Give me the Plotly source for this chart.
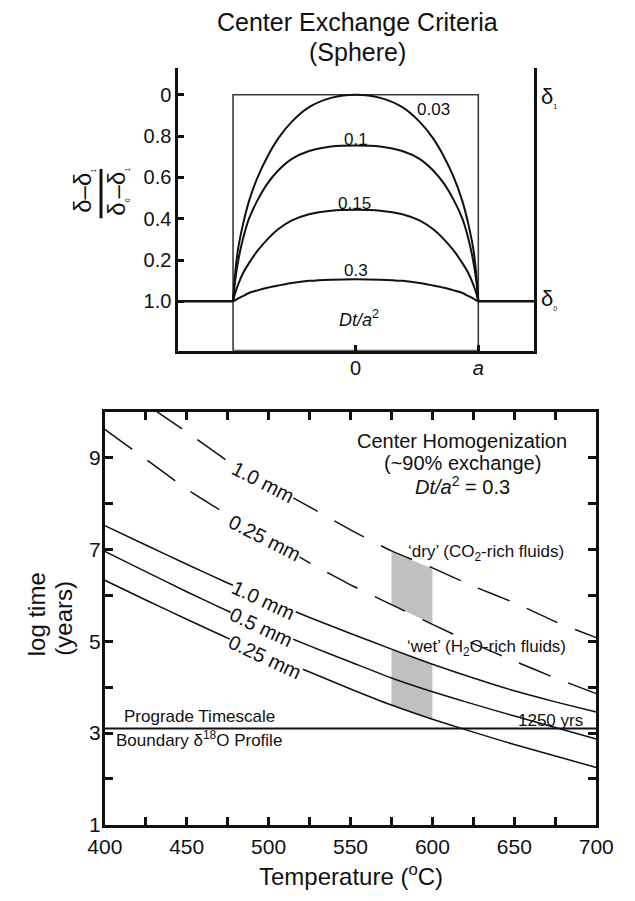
import plotly.graph_objects as go

W, H = 635, 901
FONT = "Liberation Sans, Arial, Helvetica, sans-serif"
INK = "#111111"

# ---------------- top panel data ----------------
profile_x = [-1.0, -0.985, -0.96, -0.92, -0.87, -0.8, -0.72, -0.63, -0.52, -0.38, -0.2, 0.0,
             0.2, 0.38, 0.52, 0.63, 0.72, 0.8, 0.87, 0.92, 0.96, 0.985, 1.0]
prof_003 = [0.0, 0.12, 0.25, 0.37, 0.485, 0.60, 0.70, 0.79, 0.87, 0.94, 0.985, 1.0,
            0.985, 0.94, 0.87, 0.79, 0.70, 0.60, 0.485, 0.37, 0.25, 0.12, 0.0]
prof_01 = [0.0, 0.09, 0.19, 0.30, 0.40, 0.49, 0.57, 0.635, 0.69, 0.728, 0.75, 0.755,
           0.75, 0.728, 0.69, 0.635, 0.57, 0.49, 0.40, 0.30, 0.19, 0.09, 0.0]
prof_015 = [0.0, 0.035, 0.08, 0.135, 0.185, 0.245, 0.30, 0.35, 0.392, 0.422, 0.439, 0.443,
            0.439, 0.422, 0.392, 0.35, 0.30, 0.245, 0.185, 0.135, 0.08, 0.035, 0.0]
prof_03 = [0.0, 0.004, 0.013, 0.025, 0.040, 0.053, 0.066, 0.077, 0.089, 0.099, 0.105, 0.107,
           0.105, 0.099, 0.089, 0.077, 0.066, 0.053, 0.040, 0.025, 0.013, 0.004, 0.0]
profile_labels = ["0.03", "0.1", "0.15", "0.3"]
outer_left_x = [-1.446, -1.0]
outer_right_x = [1.0, 1.454]
outer_y = [0.0, 0.0]
box_x = [-1.0, 1.0]
box_top = 1.0
top_ytickvals = [0.0, 0.2, 0.4, 0.6, 0.8, 1.0]
top_yticktext = ["1.0", "0.2", "0.4", "0.6", "0.8", "0"]
top_xtickvals = [0, 1]
top_xticktext = ["0", "<i>a</i>"]

# ---------------- bottom panel data ----------------
temps = [400, 425, 450, 475, 500, 525, 550, 575, 600, 625, 650, 675, 700]
wet_10mm = [7.52, 7.10, 6.68, 6.27, 5.89, 5.52, 5.17, 4.83, 4.50, 4.20, 3.92, 3.68, 3.46]
wet_05mm = [6.96, 6.52, 6.08, 5.66, 5.27, 4.90, 4.55, 4.20, 3.90, 3.63, 3.37, 3.12, 2.87]
wet_025mm = [6.33, 5.90, 5.48, 5.07, 4.70, 4.33, 3.96, 3.61, 3.30, 3.02, 2.75, 2.50, 2.25]
dry_025mm = [9.62, 8.97, 8.32, 7.76, 7.24, 6.71, 6.23, 5.80, 5.37, 4.95, 4.57, 4.20, 3.86]
temps_dry10 = [430, 450, 475, 500, 525, 550, 575, 600, 625, 650, 675, 700]
dry_10mm = [10.05, 9.56, 8.93, 8.42, 7.93, 7.43, 6.97, 6.60, 6.20, 5.84, 5.43, 5.08]
box_T = [575, 600]
dry_box_top = [6.95, 6.58]
dry_box_bot = [5.79, 5.38]
wet_box_top = [4.82, 4.50]
wet_box_bot = [3.60, 3.30]
prograde_T = [400, 700]
prograde_logt = [3.097, 3.097]
xticks_T = [400, 425, 450, 475, 500, 525, 550, 575, 600, 625, 650, 675, 700]
xticks_T_text = ["400", "", "450", "", "500", "", "550", "", "600", "", "650", "", "700"]
yticks_logt = [1, 2, 3, 4, 5, 6, 7, 8, 9]
yticks_logt_text = ["1", "", "3", "", "5", "", "7", "", "9"]


def PX(x):
    return x / W


def PY(y):
    return 1 - y / H


fig = go.Figure()

# ---- top panel traces ----
for ys in [prof_003, prof_01, prof_015, prof_03]:
    fig.add_trace(go.Scatter(x=profile_x, y=ys, mode="lines", xaxis="x", yaxis="y",
                             line=dict(color=INK, width=2, shape="spline", smoothing=0.8),
                             hoverinfo="skip"))
for xs in [outer_left_x, outer_right_x]:
    fig.add_trace(go.Scatter(x=xs, y=outer_y, mode="lines", xaxis="x", yaxis="y",
                             line=dict(color=INK, width=2.6), hoverinfo="skip"))

# ---- bottom panel traces ----
fig.add_trace(go.Scatter(x=[box_T[0], box_T[1], box_T[1], box_T[0]],
                         y=[dry_box_top[0], dry_box_top[1], dry_box_bot[1], dry_box_bot[0]],
                         fill="toself", fillcolor="#c0c0c0", mode="none",
                         xaxis="x2", yaxis="y2", hoverinfo="skip"))
fig.add_trace(go.Scatter(x=[box_T[0], box_T[1], box_T[1], box_T[0]],
                         y=[wet_box_top[0], wet_box_top[1], wet_box_bot[1], wet_box_bot[0]],
                         fill="toself", fillcolor="#c0c0c0", mode="none",
                         xaxis="x2", yaxis="y2", hoverinfo="skip"))
for ys in [wet_10mm, wet_05mm, wet_025mm]:
    fig.add_trace(go.Scatter(x=temps, y=ys, mode="lines", xaxis="x2", yaxis="y2",
                             line=dict(color=INK, width=1.5, shape="spline", smoothing=0.5),
                             hoverinfo="skip"))
fig.add_trace(go.Scatter(x=temps, y=dry_025mm, mode="lines", xaxis="x2", yaxis="y2",
                         line=dict(color=INK, width=1.5, dash="34px,19px", shape="spline",
                                   smoothing=0.5), hoverinfo="skip"))
fig.add_trace(go.Scatter(x=temps_dry10, y=dry_10mm, mode="lines", xaxis="x2", yaxis="y2",
                         line=dict(color=INK, width=1.5, dash="34px,19px", shape="spline",
                                   smoothing=0.5), hoverinfo="skip"))
fig.add_trace(go.Scatter(x=prograde_T, y=prograde_logt, mode="lines", xaxis="x2", yaxis="y2",
                         line=dict(color=INK, width=2), hoverinfo="skip"))

# box in the top panel
fig.add_shape(type="rect", xref="x", yref="y", x0=box_x[0], x1=box_x[1], y0=-0.239, y1=box_top,
              line=dict(color="#3a3a3a", width=1.6), layer="below")

# fraction bar of the top y-axis title
fig.add_shape(type="line", xref="paper", yref="paper", x0=PX(88), x1=PX(88),
              y0=PY(171), y1=PY(221), line=dict(color=INK, width=3))

ann = []


def text(x, y, s, size, angle=0, xref="paper", yref="paper", bg=None, xanchor="center"):
    d = dict(x=x, y=y, xref=xref, yref=yref, text=s, showarrow=False, textangle=angle,
             font=dict(family=FONT, size=size, color=INK), xanchor=xanchor, yanchor="middle")
    if bg:
        d["bgcolor"] = bg
        d["borderpad"] = 0
    ann.append(d)


SUB1 = "<sub><span style='font-size:7px'>1</span></sub>"
SUB0 = "<sub><span style='font-size:7px'>0</span></sub>"

# titles top
text(PX(360), PY(22), "Center Exchange Criteria", 25)
text(PX(360), PY(53), "(Sphere)", 25)
# curve labels top
text(PX(441), PY(111), profile_labels[0], 17)
text(PX(358), PY(141), profile_labels[1], 17)
text(PX(357), PY(206), profile_labels[2], 17)
text(PX(358), PY(274), profile_labels[3], 17)
text(PX(362), PY(322), "<i>Dt/a</i><sup>2</sup>", 18)
text(PX(563), PY(98), "δ" + SUB1, 22)
text(PX(563), PY(303), "δ" + SUB0, 22)
# fraction y title
text(PX(68), PY(193), "δ–δ" + SUB1, 24, angle=-90)
text(PX(105), PY(194), "δ" + SUB0 + "–δ" + SUB1, 24, angle=-90)

# bottom panel texts
text(PX(471), PY(446), "Center Homogenization", 20)
text(PX(471), PY(469), "(~90% exchange)", 20)
text(PX(471), PY(492), "<i>Dt/a</i><sup>2</sup> = 0.3", 20)
text(PX(496), PY(560), "‘dry’ (CO<sub>2</sub>-rich fluids)", 17)
text(PX(497), PY(656), "‘wet’ (H<sub>2</sub>O-rich fluids)", 17)
text(PX(192), PY(725), "Prograde Timescale", 17)
text(PX(192), PY(748), "Boundary δ<sup>18</sup>O Profile", 17)
text(PX(565), PY(729), "1250 yrs", 17)
# curve labels bottom (data coords)
text(496.6, 8.48, "1.0 mm", 20, angle=27, xref="x2", yref="y2", bg="white")
text(497.7, 7.26, "0.25 mm", 20, angle=27, xref="x2", yref="y2", bg="white")
text(496.6, 5.90, "1.0 mm", 20, angle=25, xref="x2", yref="y2", bg="white")
text(495.4, 5.32, "0.5 mm", 20, angle=25, xref="x2", yref="y2", bg="white")
text(497.7, 4.66, "0.25 mm", 20, angle=25, xref="x2", yref="y2", bg="white")
# axis titles bottom
text(PX(353), PY(886), "Temperature (<sup>o</sup>C)", 24)
text(PX(20), PY(622), "log time", 24, angle=-90)
text(PX(48), PY(626), "(years)", 24, angle=-90)

fig.update_layout(
    width=W, height=H, margin=dict(l=0, r=0, t=0, b=0),
    paper_bgcolor="white", plot_bgcolor="white", showlegend=False,
    font=dict(family=FONT, color=INK),
    annotations=ann,
    xaxis=dict(domain=[PX(170), PX(547)], range=[-1.446, 1.454], anchor="y",
               showline=True, linecolor=INK, linewidth=3, mirror=False,
               showgrid=False, zeroline=False, ticks="inside", ticklen=6, tickwidth=3,
               tickcolor=INK, tickvals=top_xtickvals, ticktext=top_xticktext,
               tickfont=dict(size=20, family=FONT, color=INK), ticklabelstandoff=-3),
    yaxis=dict(domain=[PY(355), PY(69)], range=[-0.239, 1.129], anchor="x",
               showline=True, linecolor=INK, linewidth=3, mirror=True,
               showgrid=False, zeroline=False, ticks="inside", ticklen=6, tickwidth=2.5,
               tickcolor=INK, tickvals=top_ytickvals, ticktext=top_yticktext,
               tickfont=dict(size=20, family=FONT, color=INK), ticklabelstandoff=0),
    xaxis2=dict(domain=[PX(92), PX(613)], range=[400, 700], anchor="y2",
                showline=True, linecolor=INK, linewidth=3, mirror="allticks",
                showgrid=False, zeroline=False, ticks="inside", ticklen=8, tickwidth=2.5,
                tickcolor=INK, tickvals=xticks_T, ticktext=xticks_T_text,
                tickfont=dict(size=21, family=FONT, color=INK), ticklabelstandoff=1),
    yaxis2=dict(domain=[PY(835), PY(417)], range=[1, 10], anchor="x2",
                showline=True, linecolor=INK, linewidth=3, mirror="allticks",
                showgrid=False, zeroline=False, ticks="inside", ticklen=8, tickwidth=2.5,
                tickcolor=INK, tickvals=yticks_logt, ticktext=yticks_logt_text,
                tickfont=dict(size=21, family=FONT, color=INK), ticklabelstandoff=-3),
)

fig.write_html("out.html")
